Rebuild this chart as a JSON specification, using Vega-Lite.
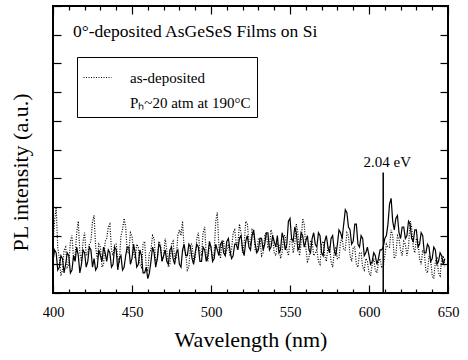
{
  "$schema": "https://vega.github.io/schema/vega-lite/v6.json",
  "autosize": "none",
  "width": 395,
  "height": 287,
  "padding": {"left": 53, "top": 6, "right": 20, "bottom": 67},
  "background": "white",
  "config": {
    "view": {"stroke": "black", "strokeWidth": 2},
    "font": "Liberation Serif",
    "axis": {"grid": false, "domain": false, "tickColor": "black", "labelColor": "black", "titleColor": "black", "labelFont": "Liberation Serif", "titleFont": "Liberation Serif", "titleFontWeight": "normal"}
  },
  "title": {"text": "0°-deposited AsGeSeS Films on Si", "anchor": "start", "frame": "group", "offset": 0, "baseline": "alphabetic", "dy": 49, "dx": 20, "font": "Liberation Serif", "fontSize": 17.5, "fontWeight": "normal", "color": "black"},
  "datasets": {
    "pl": [
      {"w":400,"dep":18,"ann":11},{"w":401,"dep":25,"ann":15},{"w":402,"dep":30,"ann":14},{"w":403,"dep":16,"ann":8},{"w":404,"dep":12,"ann":9},
      {"w":405,"dep":6,"ann":13},{"w":406,"dep":8,"ann":12},{"w":407,"dep":15,"ann":7},{"w":408,"dep":16,"ann":10},{"w":409,"dep":9,"ann":14},
      {"w":410,"dep":10,"ann":13},{"w":411,"dep":18,"ann":7},{"w":412,"dep":20,"ann":8},{"w":413,"dep":12,"ann":13},{"w":414,"dep":13,"ann":11},
      {"w":415,"dep":21,"ann":16},{"w":416,"dep":25,"ann":13},{"w":417,"dep":14,"ann":7},{"w":418,"dep":11,"ann":10},{"w":419,"dep":18,"ann":15},
      {"w":420,"dep":21,"ann":14},{"w":421,"dep":13,"ann":9},{"w":422,"dep":14,"ann":11},{"w":423,"dep":17,"ann":16},{"w":424,"dep":18,"ann":15},
      {"w":425,"dep":25,"ann":9},{"w":426,"dep":27,"ann":12},{"w":427,"dep":16,"ann":8},{"w":428,"dep":12,"ann":9},{"w":429,"dep":17,"ann":15},
      {"w":430,"dep":16,"ann":13},{"w":431,"dep":9,"ann":11},{"w":432,"dep":10,"ann":16},{"w":433,"dep":18,"ann":14},{"w":434,"dep":19,"ann":11},
      {"w":435,"dep":23,"ann":15},{"w":436,"dep":24,"ann":14},{"w":437,"dep":15,"ann":9},{"w":438,"dep":13,"ann":10},{"w":439,"dep":17,"ann":16},
      {"w":440,"dep":17,"ann":15},{"w":441,"dep":12,"ann":8},{"w":442,"dep":11,"ann":12},{"w":443,"dep":20,"ann":13},{"w":444,"dep":22,"ann":8},
      {"w":445,"dep":26,"ann":9},{"w":446,"dep":23,"ann":13},{"w":447,"dep":14,"ann":16},{"w":448,"dep":14,"ann":16},{"w":449,"dep":21,"ann":10},
      {"w":450,"dep":20,"ann":12},{"w":451,"dep":14,"ann":17},{"w":452,"dep":12,"ann":14},{"w":453,"dep":17,"ann":9},{"w":454,"dep":16,"ann":10},
      {"w":455,"dep":10,"ann":15},{"w":456,"dep":9,"ann":13},{"w":457,"dep":17,"ann":7},{"w":458,"dep":18,"ann":7},{"w":459,"dep":9,"ann":9},
      {"w":460,"dep":8,"ann":5},{"w":461,"dep":14,"ann":7},{"w":462,"dep":15,"ann":11},{"w":463,"dep":20,"ann":16},{"w":464,"dep":19,"ann":14},
      {"w":465,"dep":11,"ann":9},{"w":466,"dep":11,"ann":12},{"w":467,"dep":18,"ann":17},{"w":468,"dep":17,"ann":16},{"w":469,"dep":11,"ann":11},
      {"w":470,"dep":13,"ann":13},{"w":471,"dep":19,"ann":15},{"w":472,"dep":15,"ann":11},{"w":473,"dep":9,"ann":10},{"w":474,"dep":10,"ann":15},
      {"w":475,"dep":17,"ann":16},{"w":476,"dep":18,"ann":12},{"w":477,"dep":12,"ann":10},{"w":478,"dep":12,"ann":14},{"w":479,"dep":20,"ann":15},
      {"w":480,"dep":22,"ann":10},{"w":481,"dep":20,"ann":9},{"w":482,"dep":25,"ann":15},{"w":483,"dep":15,"ann":17},{"w":484,"dep":14,"ann":13},
      {"w":485,"dep":8,"ann":13},{"w":486,"dep":9,"ann":17},{"w":487,"dep":17,"ann":16},{"w":488,"dep":17,"ann":12},{"w":489,"dep":11,"ann":10},
      {"w":490,"dep":12,"ann":14},{"w":491,"dep":19,"ann":17},{"w":492,"dep":21,"ann":16},{"w":493,"dep":14,"ann":11},{"w":494,"dep":13,"ann":11},
      {"w":495,"dep":21,"ann":16},{"w":496,"dep":23,"ann":15},{"w":497,"dep":13,"ann":11},{"w":498,"dep":11,"ann":13},{"w":499,"dep":17,"ann":18},
      {"w":500,"dep":16,"ann":16},{"w":501,"dep":12,"ann":11},{"w":502,"dep":14,"ann":12},{"w":503,"dep":25,"ann":17},{"w":504,"dep":28,"ann":15},
      {"w":505,"dep":16,"ann":13},{"w":506,"dep":12,"ann":17},{"w":507,"dep":18,"ann":18},{"w":508,"dep":18,"ann":14},{"w":509,"dep":13,"ann":13},
      {"w":510,"dep":15,"ann":18},{"w":511,"dep":17,"ann":19},{"w":512,"dep":13,"ann":15},{"w":513,"dep":15,"ann":12},{"w":514,"dep":21,"ann":13},
      {"w":515,"dep":22,"ann":17},{"w":516,"dep":17,"ann":17},{"w":517,"dep":17,"ann":15},{"w":518,"dep":24,"ann":19},{"w":519,"dep":21,"ann":20},
      {"w":520,"dep":14,"ann":15},{"w":521,"dep":17,"ann":13},{"w":522,"dep":25,"ann":18},{"w":523,"dep":24,"ann":20},{"w":524,"dep":18,"ann":16},
      {"w":525,"dep":17,"ann":15},{"w":526,"dep":22,"ann":20},{"w":527,"dep":21,"ann":22},{"w":528,"dep":15,"ann":17},{"w":529,"dep":14,"ann":14},
      {"w":530,"dep":19,"ann":15},{"w":531,"dep":19,"ann":19},{"w":532,"dep":13,"ann":19},{"w":533,"dep":14,"ann":15},{"w":534,"dep":20,"ann":17},
      {"w":535,"dep":21,"ann":21},{"w":536,"dep":16,"ann":21},{"w":537,"dep":16,"ann":15},{"w":538,"dep":22,"ann":16},{"w":539,"dep":20,"ann":20},
      {"w":540,"dep":14,"ann":18},{"w":541,"dep":13,"ann":16},{"w":542,"dep":17,"ann":20},{"w":543,"dep":17,"ann":14},{"w":544,"dep":12,"ann":15},
      {"w":545,"dep":14,"ann":21},{"w":546,"dep":20,"ann":19},{"w":547,"dep":20,"ann":15},{"w":548,"dep":15,"ann":17},{"w":549,"dep":13,"ann":25},
      {"w":550,"dep":18,"ann":26},{"w":551,"dep":19,"ann":19},{"w":552,"dep":14,"ann":18},{"w":553,"dep":17,"ann":23},{"w":554,"dep":24,"ann":21},
      {"w":555,"dep":21,"ann":15},{"w":556,"dep":13,"ann":16},{"w":557,"dep":17,"ann":21},{"w":558,"dep":26,"ann":20},{"w":559,"dep":24,"ann":16},
      {"w":560,"dep":16,"ann":18},{"w":561,"dep":11,"ann":20},{"w":562,"dep":12,"ann":15},{"w":563,"dep":18,"ann":14},{"w":564,"dep":18,"ann":19},
      {"w":565,"dep":13,"ann":21},{"w":566,"dep":14,"ann":17},{"w":567,"dep":15,"ann":16},{"w":568,"dep":11,"ann":21},{"w":569,"dep":10,"ann":20},
      {"w":570,"dep":17,"ann":14},{"w":571,"dep":18,"ann":13},{"w":572,"dep":13,"ann":18},{"w":573,"dep":11,"ann":20},{"w":574,"dep":16,"ann":16},
      {"w":575,"dep":16,"ann":14},{"w":576,"dep":11,"ann":19},{"w":577,"dep":9,"ann":20},{"w":578,"dep":14,"ann":15},{"w":579,"dep":16,"ann":13},
      {"w":580,"dep":12,"ann":17},{"w":581,"dep":12,"ann":22},{"w":582,"dep":18,"ann":21},{"w":583,"dep":19,"ann":19},{"w":584,"dep":15,"ann":24},
      {"w":585,"dep":15,"ann":29},{"w":586,"dep":21,"ann":28},{"w":587,"dep":20,"ann":23},{"w":588,"dep":13,"ann":22},{"w":589,"dep":11,"ann":17},
      {"w":590,"dep":16,"ann":18},{"w":591,"dep":16,"ann":24},{"w":592,"dep":10,"ann":24},{"w":593,"dep":9,"ann":17},{"w":594,"dep":14,"ann":16},
      {"w":595,"dep":14,"ann":20},{"w":596,"dep":9,"ann":19},{"w":597,"dep":8,"ann":13},{"w":598,"dep":12,"ann":14},{"w":599,"dep":11,"ann":16},
      {"w":600,"dep":7,"ann":13},{"w":601,"dep":6,"ann":10},{"w":602,"dep":10,"ann":11},{"w":603,"dep":12,"ann":14},{"w":604,"dep":8,"ann":13},
      {"w":605,"dep":7,"ann":10},{"w":606,"dep":11,"ann":12},{"w":607,"dep":12,"ann":15},{"w":608,"dep":9,"ann":15},{"w":609,"dep":9,"ann":16},
      {"w":610,"dep":13,"ann":19},{"w":611,"dep":17,"ann":20},{"w":612,"dep":16,"ann":24},{"w":613,"dep":16,"ann":31},{"w":614,"dep":22,"ann":33},
      {"w":615,"dep":20,"ann":25},{"w":616,"dep":12,"ann":22},{"w":617,"dep":13,"ann":26},{"w":618,"dep":20,"ann":27},{"w":619,"dep":19,"ann":21},
      {"w":620,"dep":15,"ann":19},{"w":621,"dep":13,"ann":23},{"w":622,"dep":18,"ann":23},{"w":623,"dep":17,"ann":19},{"w":624,"dep":13,"ann":20},
      {"w":625,"dep":16,"ann":25},{"w":626,"dep":25,"ann":24},{"w":627,"dep":23,"ann":19},{"w":628,"dep":16,"ann":18},{"w":629,"dep":14,"ann":22},
      {"w":630,"dep":19,"ann":22},{"w":631,"dep":18,"ann":16},{"w":632,"dep":12,"ann":17},{"w":633,"dep":10,"ann":21},{"w":634,"dep":15,"ann":20},
      {"w":635,"dep":14,"ann":14},{"w":636,"dep":8,"ann":14},{"w":637,"dep":7,"ann":17},{"w":638,"dep":13,"ann":16},{"w":639,"dep":12,"ann":11},
      {"w":640,"dep":6,"ann":12},{"w":641,"dep":5,"ann":16},{"w":642,"dep":11,"ann":15},{"w":643,"dep":12,"ann":10},{"w":644,"dep":7,"ann":11},
      {"w":645,"dep":6,"ann":14},{"w":646,"dep":12,"ann":13},{"w":647,"dep":13,"ann":10},{"w":648,"dep":9,"ann":12}
    ],
    "marker": [{"w": 609, "y0": 0, "y1": 42, "label": "2.04 eV", "ly": 45.6}]
  },
  "resolve": {"axis": {"x": "independent", "y": "independent"}},
  "layer": [
    {
      "data": {"name": "pl"},
      "transform": [{"fold": ["dep", "ann"], "as": ["series", "v"]}],
      "mark": {"type": "line", "color": "black", "strokeWidth": 1.2},
      "encoding": {
        "x": {"field": "w", "type": "quantitative", "scale": {"domain": [400, 650], "nice": false, "zero": false},
          "axis": {"orient": "bottom", "values": [400,410,420,430,440,450,460,470,480,490,500,510,520,530,540,550,560,570,580,590,600,610,620,630,640,650],
            "labelExpr": "datum.value % 50 === 0 ? datum.label : ''", "labelOverlap": false, "labelFlush": false,
            "tickSize": {"condition": {"test": "datum.value % 50 === 0", "value": -8}, "value": -4},
            "tickWidth": 1.2, "labelFont": "Liberation Serif", "labelFontSize": 14.5, "labelColor": "black", "labelPadding": 20,
            "title": "Wavelength (nm)", "titleFont": "Liberation Serif", "titleFontSize": 22, "titleFontWeight": "normal", "titleColor": "black", "titlePadding": 7}},
        "y": {"field": "v", "type": "quantitative", "scale": {"domain": [0, 100], "nice": false},
          "axis": {"orient": "left", "values": [0,10,20,30,40,50,60,70,80,90,100], "labels": false, "tickSize": -8, "tickWidth": 1.2,
            "title": "PL intensity (a.u.)", "titleFont": "Liberation Serif", "titleFontSize": 22, "titleFontWeight": "normal", "titleColor": "black", "titlePadding": 20, "titleY": 166}},
        "strokeDash": {"field": "series", "type": "nominal",
          "scale": {"domain": ["dep", "ann"], "range": [[1, 1.5], [1, 0]]},
          "legend": {"orient": "none", "legendX": 24, "legendY": 51, "title": null, "direction": "vertical",
            "labelExpr": "datum.value === 'dep' ? 'as-deposited' : 'Pₕ~20 atm at 190°C'",
            "labelFont": "Liberation Serif", "labelFontSize": 15, "labelColor": "black",
            "symbolType": "stroke", "symbolSize": 784, "symbolStrokeColor": "black", "symbolStrokeWidth": 1,
            "labelOffset": 18, "rowPadding": 2, "padding": 6, "strokeColor": "black", "fillColor": "white",
            "encode": {"symbols": {"update": {"strokeOpacity": {"signal": "datum.value === 'dep' ? 1 : 0"}}}}}}
      }
    },
    {
      "data": {"name": "marker"},
      "mark": {"type": "rule", "color": "black", "strokeWidth": 1.5},
      "encoding": {
        "x": {"field": "w", "type": "quantitative",
          "axis": {"orient": "top", "values": [400,410,420,430,440,450,460,470,480,490,500,510,520,530,540,550,560,570,580,590,600,610,620,630,640,650],
            "labels": false, "title": null,
            "tickSize": {"condition": {"test": "datum.value % 50 === 0", "value": -8}, "value": -4}, "tickWidth": 1.2}},
        "y": {"field": "y0", "type": "quantitative",
          "axis": {"orient": "right", "values": [0,10,20,30,40,50,60,70,80,90,100], "labels": false, "title": null, "tickSize": -8, "tickWidth": 1.2}},
        "y2": {"field": "y1"}
      }
    },
    {
      "data": {"name": "marker"},
      "mark": {"type": "text", "font": "Liberation Serif", "fontSize": 15, "color": "black", "dx": 4, "baseline": "middle"},
      "encoding": {
        "x": {"field": "w", "type": "quantitative", "axis": null},
        "y": {"field": "ly", "type": "quantitative", "axis": null},
        "text": {"field": "label"}
      }
    }
  ]
}
